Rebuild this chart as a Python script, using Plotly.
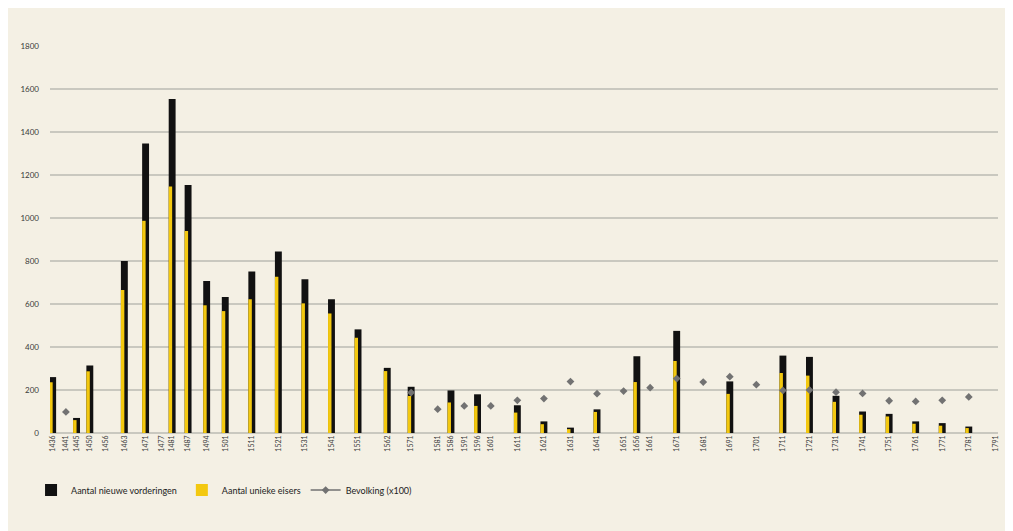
import plotly.graph_objects as go

# ---- data ----
bar_years = [1436, 1445, 1450, 1463, 1471, 1481, 1487, 1494, 1501, 1511, 1521, 1531,
             1541, 1551, 1562, 1571, 1586, 1596, 1611, 1621, 1631, 1641, 1656, 1671,
             1691, 1711, 1721, 1731, 1741, 1751, 1761, 1771, 1781]
vorderingen = [260, 70, 314, 800, 1347, 1554, 1153, 707, 632, 751, 844, 715,
               622, 482, 303, 215, 198, 180, 129, 54, 25, 110, 357, 475,
               240, 360, 354, 173, 100, 89, 54, 46, 30]
eisers = [236, 60, 287, 665, 987, 1147, 940, 594, 567, 622, 727, 603,
          556, 443, 288, 172, 142, 126, 95, 41, 18, 98, 237, 335,
          182, 279, 267, 145, 85, 77, 43, 34, 23]

pop_years = [1441, 1571, 1581, 1591, 1601, 1611, 1621, 1631, 1641, 1651, 1661, 1671,
             1681, 1691, 1701, 1711, 1721, 1731, 1741, 1751, 1761, 1771, 1781]
bevolking = [98, 188, 111, 126, 126, 152, 160, 239, 183, 195, 211, 253,
             237, 262, 225, 198, 200, 190, 184, 150, 147, 152, 168]

tick_years = [1436, 1441, 1445, 1450, 1456, 1463, 1471, 1477, 1481, 1487, 1494, 1501,
              1511, 1521, 1531, 1541, 1551, 1562, 1571, 1581, 1586, 1591, 1596, 1601,
              1611, 1621, 1631, 1641, 1651, 1656, 1661, 1671, 1681, 1691, 1701, 1711,
              1721, 1731, 1741, 1751, 1761, 1771, 1781, 1791]
y_ticks = [0, 200, 400, 600, 800, 1000, 1200, 1400, 1600, 1800]

BG = "#F4F0E4"
FONT = "Lato"

fig = go.Figure()
fig.add_trace(go.Bar(
    x=bar_years, y=vorderingen, name="Aantal nieuwe vorderingen",
    marker=dict(color="#111111", line=dict(width=0)),
    width=2.6, offset=-1.3,
))
fig.add_trace(go.Bar(
    x=bar_years, y=eisers, name="Aantal unieke eisers",
    marker=dict(color="#F3C80F", line=dict(width=0)),
    width=1.3, offset=-1.3,
))
fig.add_trace(go.Scatter(
    x=pop_years, y=bevolking, mode="markers", showlegend=False,
    marker=dict(symbol="diamond", size=6, color="#727272"),
    name="Bevolking (x100)",
))
# legend entry for the population series (line with diamond)
fig.add_trace(go.Scatter(
    x=[None], y=[None], mode="lines+markers", name="Bevolking (x100)",
    line=dict(color="#727272", width=1.5),
    marker=dict(symbol="diamond", size=6, color="#727272"),
))

fig.update_layout(
    width=1013, height=531,
    margin=dict(l=38, r=23, t=38, b=106),
    paper_bgcolor=BG, plot_bgcolor=BG,
    barmode="overlay",
    font=dict(family=FONT, size=8, color="#3a3a3a"),
    legend=dict(orientation="h", x=-0.02, xanchor="left", y=-0.11, yanchor="top",
                font=dict(size=9, color="#222222"), bgcolor="rgba(0,0,0,0)",
                traceorder="normal", itemwidth=30),
    showlegend=True,
)
fig.update_xaxes(
    range=[1435, 1792], tickmode="array", tickvals=tick_years,
    ticktext=[str(t) for t in tick_years], tickangle=-90,
    tickfont=dict(size=7, color="#3a3a3a"), showgrid=False, zeroline=False,
    showline=False, ticks="",
)
fig.update_yaxes(
    range=[0, 1800], tickmode="array", tickvals=y_ticks,
    tickfont=dict(size=8, color="#3a3a3a"), showgrid=True,
    gridcolor="#C9C8BF", gridwidth=1.5, zeroline=True, zerolinecolor="#C9C8BF",
    zerolinewidth=1.5, ticks="", ticklabelstandoff=10,
)

fig.write_html("out.html")
